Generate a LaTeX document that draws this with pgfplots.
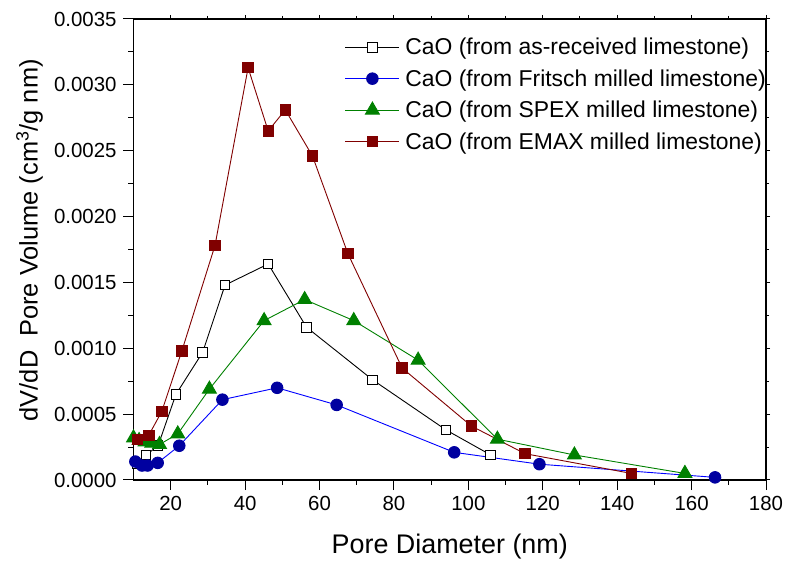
\documentclass[border=0pt]{standalone}
\usepackage{pgfplots}
\pgfplotsset{compat=1.18}
\usepackage{fontspec}
\setmainfont{Liberation Sans}

\definecolor{caored}{RGB}{128,0,0}
\definecolor{caonavy}{RGB}{0,0,160}
\definecolor{caoblue}{RGB}{0,0,255}
\definecolor{caogreen}{RGB}{0,128,0}

\begin{document}
\begin{tikzpicture}[x=1bp,y=1bp]
\path[use as bounding box] (-133.5,-87) rectangle (655.5,480);

% ticks on the top and right edges, short and unlabelled
\begin{axis}[
  at={(0,0)}, anchor=south west,
  scale only axis, width=632.5bp, height=461bp,
  xmin=10, xmax=180, ymin=0, ymax=0.0035,
  xtick={20,40,...,180}, minor x tick num=1,
  ytick={0,0.0005,...,0.0035}, minor y tick num=1,
  xtick pos=right, ytick pos=right,
  xticklabels={}, yticklabels={},
  scaled x ticks=false, scaled y ticks=false,
  tick align=outside,
  major tick length=4bp, minor tick length=3bp,
  axis line style={line width=1.2bp},
  every tick/.style={black, line width=1bp},
]
\end{axis}

\begin{axis}[
  at={(0,0)}, anchor=south west,
  scale only axis, width=632.5bp, height=461bp,
  xmin=10, xmax=180, ymin=0, ymax=0.0035,
  xtick={20,40,...,180}, minor x tick num=1,
  ytick={0,0.0005,...,0.0035}, minor y tick num=1,
  xtick pos=left, ytick pos=left,
  tick align=outside,
  major tick length=10bp, minor tick length=5bp,
  axis line style={line width=1.2bp},
  every tick/.style={black, line width=1bp},
  scaled y ticks=false,
  yticklabel style={/pgf/number format/fixed, /pgf/number format/fixed zerofill,
    /pgf/number format/precision=4, xshift=-3.5bp},
  /pgf/number format/assume math mode=true,
  tick label style={font=\fontsize{20.5}{23}\selectfont},
  xticklabel style={yshift=-3bp},
  xlabel={Pore Diameter (nm)},
  ylabel={dV/dD\ \ Pore Volume (cm\textsuperscript{3}/g nm)},
  xlabel style={font=\fontsize{27}{30}\selectfont,
    at={(axis description cs:0.5,0)}, anchor=center, yshift=-67bp},
  ylabel style={font=\fontsize{25.5}{28}\selectfont,
    at={(axis description cs:0,0.52)}, anchor=center, yshift=104bp},
  legend style={draw=none, fill=none, at={(0.334,0.962)}, anchor=north west,
    font=\fontsize{23}{25}\selectfont, row sep=10.3bp, inner sep=0pt,
    nodes={inner sep=1.5bp}},
  legend cell align=left,
  legend image code/.code={%
    \draw[mark repeat=2, mark phase=2, #1]
      plot coordinates {(0bp,0bp) (27bp,0bp) (54bp,0bp)};
    \path (58bp,0bp);},
]

% CaO from as-received limestone
\addplot[black, line width=0.9bp, mark=square*, mark size=4.8bp,
  mark options={fill=white, draw=black, line width=1bp}]
  coordinates {
  (11.0,0.00012) (13.4,0.00019) (16.6,0.00026) (21.4,0.00065)
  (28.6,0.00097) (34.6,0.00148) (46.2,0.00164) (56.5,0.00116)
  (74.3,0.00076) (94.0,0.00038) (106.0,0.00019)
  };
\addlegendentry{CaO (from as-received limestone)}

% CaO from Fritsch milled limestone
\addplot[caoblue, line width=0.9bp, mark=*, mark size=5.8bp,
  mark options={fill=caonavy, draw=caonavy}]
  coordinates {
  (10.5,0.00014) (12.3,0.00011) (13.8,0.00011) (16.5,0.00013)
  (22.3,0.00026) (33.9,0.00061) (48.6,0.00070) (64.6,0.00057)
  (96.2,0.00021) (119.1,0.00012) (166.3,0.00002)
  };
\addlegendentry{CaO (from Fritsch milled limestone)}

% CaO from SPEX milled limestone
\addplot[caogreen, line width=0.9bp, mark=triangle*, mark size=8bp,
  mark options={fill=caogreen, draw=caogreen}]
  coordinates {
  (10.0,0.00032) (11.5,0.00030) (13.1,0.00029) (14.9,0.00028)
  (17.0,0.00027) (21.9,0.00035) (30.4,0.00069) (45.1,0.00121)
  (56.0,0.00137) (69.2,0.00121) (86.5,0.00091) (107.8,0.00031)
  (128.5,0.00019) (158.2,0.00005)
  };
\addlegendentry{CaO (from SPEX milled limestone)}

% CaO from EMAX milled limestone
\addplot[caored, line width=0.9bp, mark=square*, mark size=5.2bp,
  mark options={fill=caored, draw=caored}]
  coordinates {
  (11.0,0.00031) (14.1,0.00034) (17.6,0.00052) (23.0,0.00098)
  (31.9,0.00178) (40.8,0.00313) (46.2,0.00265) (50.8,0.00281)
  (58.1,0.00246) (67.6,0.00172) (82.2,0.00085) (100.8,0.00041)
  (115.2,0.00020) (143.8,0.00005)
  };
\addlegendentry{CaO (from EMAX milled limestone)}

\end{axis}
\end{tikzpicture}
\end{document}
